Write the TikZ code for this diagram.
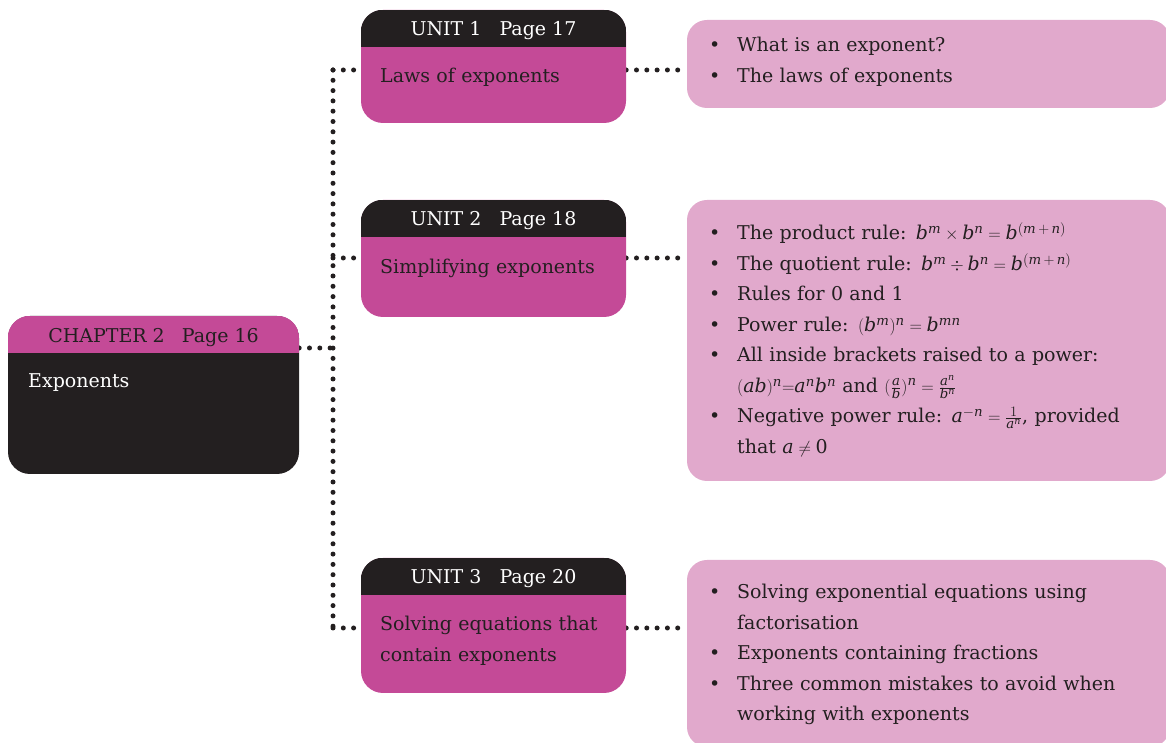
\documentclass[tikz,border=0pt]{standalone}
\usepackage{fontspec}
\setmainfont{DejaVu Serif}
\DeclareSymbolFont{letters}{\encodingdefault}{\rmdefault}{m}{it}
\DeclareSymbolFont{operators}{\encodingdefault}{\rmdefault}{m}{n}
\usetikzlibrary{backgrounds}
\definecolor{magentabox}{HTML}{C44A97}
\definecolor{pinkbox}{HTML}{E1A9CC}
\definecolor{darkbox}{HTML}{231F20}
\newcommand\listfont{\fontsize{19}{30.5}\selectfont\lineskiplimit=-40pt\relax}
\newcommand\bitem[1]{\noindent\hangindent=28pt\hangafter=1\makebox[28pt][l]{\textbullet}#1\par}
\tikzset{
  box/.style={rounded corners=22pt, minimum width=265pt, inner sep=0pt},
  tbox/.style={rounded corners=20pt, fill=pinkbox, minimum width=483pt, inner sep=0pt},
  headtext/.style={inner sep=0pt, font=\fontsize{19}{23}\selectfont},
  bodytext/.style={inner sep=0pt, anchor=base west, text width=235pt, text=darkbox,
    font=\fontsize{19}{30.5}\selectfont},
  list/.style={inner sep=0pt, anchor=base west, text width=440pt, text=darkbox,
    font=\listfont},
  dotline/.style={draw=darkbox, line width=5pt, line cap=round, dash pattern=on 0pt off 10.3pt}
}
\begin{document}
\begin{tikzpicture}[x=1pt,y=1pt]
  \useasboundingbox (0,0) rectangle (1166,743);
  \clip (0,0) rectangle (1166,743);
  % joints on the trunk
  \coordinate (j0) at (333,395);
  \coordinate (j1) at (333,673);
  \coordinate (j2) at (333,485);
  \coordinate (j3) at (333,115);
  % boxes
  \node[box, fill=darkbox, minimum width=291pt, minimum height=158pt] (ch) at (153.5,348) {};
  \node[box, fill=magentabox, minimum height=113pt] (u1) at (493.5,676.5) {};
  \node[box, fill=magentabox, minimum height=117pt] (u2) at (493.5,484.5) {};
  \node[box, fill=magentabox, minimum height=135pt] (u3) at (493.5,117.5) {};
  \node[tbox, minimum height=88pt] (t1) at (928.5,679) {};
  \node[tbox, minimum height=281pt] (t2) at (928.5,402.5) {};
  \node[tbox, minimum height=187pt] (t3) at (928.5,89.5) {};
  \foreach \b/\c in {ch/magentabox, u1/darkbox, u2/darkbox, u3/darkbox} {
    \begin{scope}
      \clip[rounded corners=22pt] (\b.south west) rectangle (\b.north east);
      \fill[\c] (\b.north west) rectangle ([yshift=-37pt]\b.north east);
    \end{scope}
  }
  % headers
  \node[headtext, text=darkbox] (ch-h) at ([yshift=-21.5pt]ch.north) {CHAPTER 2\hspace{17pt}Page 16};
  \node[headtext, text=white] (u1-h) at ([yshift=-21pt]u1.north) {UNIT 1\hspace{18pt}Page 17};
  \node[headtext, text=white] (u2-h) at ([yshift=-21pt]u2.north) {UNIT 2\hspace{18pt}Page 18};
  \node[headtext, text=white] (u3-h) at ([yshift=-21pt]u3.north) {UNIT 3\hspace{18pt}Page 20};
  % titles
  \node[bodytext, text=white] (ch-t) at (28,355) {Exponents};
  \node[bodytext] (u1-t) at (380,660) {Laws of exponents};
  \node[bodytext] (u2-t) at (380,469) {Simplifying exponents};
  \node[bodytext] (u3-t) at (380,112) {Solving equations that\newline contain exponents};
  % topics
  \node[list] (t1-l) at (709,691) {%
    \bitem{What is an exponent?}%
    \bitem{The laws of exponents}};
  \node[list] (t2-l) at (709,503) {%
    \bitem{The product rule: $b^m\times b^n=b^{(m\,+\,n)}$}%
    \bitem{The quotient rule: $b^m\div b^n=b^{(m\,+\,n)}$}%
    \bitem{Rules for 0 and 1}%
    \bitem{Power rule: $(b^m)^n=b^{mn}$}%
    \bitem{All inside brackets raised to a power:\newline
      $(ab)^n{=}a^nb^n$ and $\bigl(\frac{a}{b}\bigr)^n=\frac{a^n}{b^n}$}%
    \bitem{Negative power rule: $a^{-n}=\frac{1}{a^n}$, provided\newline that $a\neq{}$0}};
  \node[list] (t3-l) at (709,144) {%
    \bitem{Solving exponential equations using\newline factorisation}%
    \bitem{Exponents containing fractions}%
    \bitem{Three common mistakes to avoid when\newline working with exponents}};
  % connectors
  \begin{scope}[on background layer]
    \draw[dotline] (ch.east |- j0) -- (j0);
    \draw[dotline] (j1) -- (j3);
    \draw[dotline] (j1) -- (u1.west |- j1);
    \draw[dotline] (j2) -- (u2.west |- j2);
    \draw[dotline] (j3) -- (u3.west |- j3);
    \draw[dotline] (u1.east |- j1) -- (t1.west |- j1);
    \draw[dotline] (u2.east |- j2) -- (t2.west |- j2);
    \draw[dotline] (u3.east |- j3) -- (t3.west |- j3);
  \end{scope}
\end{tikzpicture}
\end{document}
